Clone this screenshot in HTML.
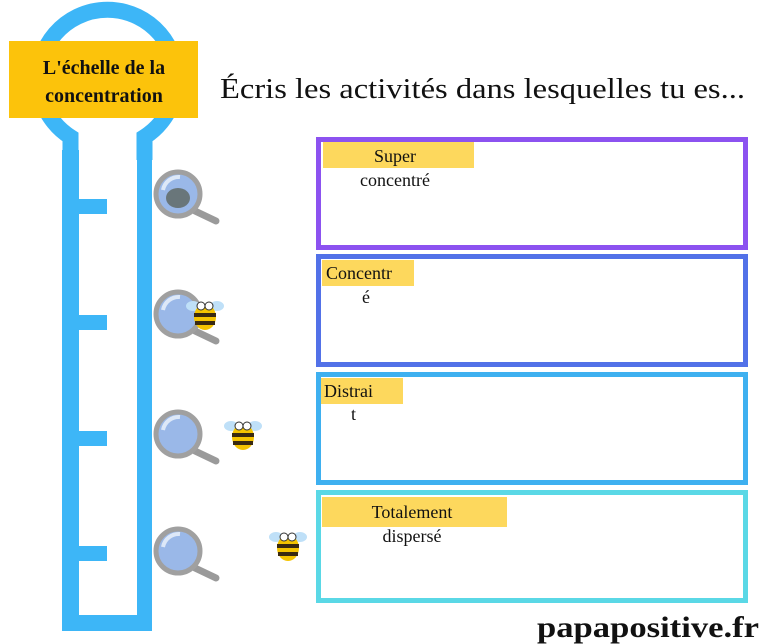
<!DOCTYPE html>
<html><head><meta charset="utf-8"><style>
html,body{margin:0;padding:0;background:#fff;}
svg{display:block;}
text{font-family:"Liberation Serif",serif;fill:#111;}
</style></head><body>
<svg width="768" height="644" viewBox="0 0 768 644" xmlns="http://www.w3.org/2000/svg">
<!-- thermometer -->
<path d="M70.5 160 L70.5 137 A69 69 0 1 1 144.5 137 L144.5 160" fill="none" stroke="#3db6f7" stroke-width="16"/>
<path d="M62 150 L62 631 L152 631 L152 150 L137 150 L137 615 L79 615 L79 150 Z" fill="#3db6f7"/>
<rect x="79" y="199" width="28" height="15" fill="#3db6f7"/>
<rect x="79" y="315" width="28" height="15" fill="#3db6f7"/>
<rect x="79" y="431" width="28" height="15" fill="#3db6f7"/>
<rect x="79" y="546" width="28" height="15" fill="#3db6f7"/>
<rect x="9" y="41" width="189" height="77" fill="#fcc30b"/>
<text x="104" y="74" font-size="20" font-weight="bold" text-anchor="middle">L'échelle de la</text>
<text x="104" y="102" font-size="20" font-weight="bold" text-anchor="middle">concentration</text>
<text x="220" y="98" font-size="28" textLength="525" lengthAdjust="spacingAndGlyphs">Écris les activités dans lesquelles tu es...</text>
<!-- magnifiers -->
<g id="m">
<line x1="195" y1="211" x2="216" y2="221" stroke="#9a9a9a" stroke-width="7" stroke-linecap="round"/>
<circle cx="178" cy="194" r="22" fill="#9ab8e8" stroke="#a0a0a0" stroke-width="5"/>
<path d="M163 190 A16 16 0 0 1 180 177" stroke="#dde8f8" stroke-width="4" fill="none"/>
</g>
<use href="#m" y="120"/>
<use href="#m" y="240"/>
<use href="#m" y="357"/>
<!-- bees -->
<ellipse cx="178" cy="198" rx="12" ry="10" fill="#4a4a30" opacity=".6"/>
<g id="b">
<ellipse cx="231" cy="426" rx="7" ry="5" fill="#bfe0f8"/>
<ellipse cx="255" cy="426" rx="7" ry="5" fill="#bfe0f8"/>
<ellipse cx="243" cy="437" rx="11" ry="13" fill="#f5c400"/>
<rect x="232" y="433" width="22" height="4" fill="#3a2a10"/>
<rect x="233" y="441" width="20" height="4" fill="#3a2a10"/>
<circle cx="239" cy="426" r="4" fill="#fff" stroke="#333"/>
<circle cx="247" cy="426" r="4" fill="#fff" stroke="#333"/>
</g>
<use href="#b" x="45" y="111"/>
<g transform="translate(-38,-120)"><use href="#b"/></g>
<!-- boxes -->
<rect x="318.5" y="139.5" width="427" height="108" fill="none" stroke="#8c52f0" stroke-width="5"/>
<rect x="318.5" y="256.5" width="427" height="108" fill="none" stroke="#5271e8" stroke-width="5"/>
<rect x="318.5" y="374.5" width="427" height="108" fill="none" stroke="#3eb0f0" stroke-width="5"/>
<rect x="318.5" y="492.5" width="427" height="108" fill="none" stroke="#5ad8e6" stroke-width="5"/>
<rect x="323" y="142" width="151" height="26" fill="#fdd85d"/>
<text x="395" y="162" font-size="18" text-anchor="middle">Super</text>
<text x="395" y="186" font-size="18" text-anchor="middle">concentré</text>
<rect x="322" y="260" width="92" height="26" fill="#fdd85d"/>
<text x="326" y="279" font-size="18">Concentr</text>
<text x="362" y="303" font-size="18">é</text>
<rect x="321" y="378" width="82" height="26" fill="#fdd85d"/>
<text x="324" y="397" font-size="18">Distrai</text>
<text x="351" y="420" font-size="18">t</text>
<rect x="322" y="497" width="185" height="30" fill="#fdd85d"/>
<text x="412" y="518" font-size="18" text-anchor="middle">Totalement</text>
<text x="412" y="542" font-size="18" text-anchor="middle">dispersé</text>
<text x="537" y="637" font-size="30" font-weight="bold" textLength="222" lengthAdjust="spacingAndGlyphs">papapositive.fr</text>
</svg>
</body></html>
